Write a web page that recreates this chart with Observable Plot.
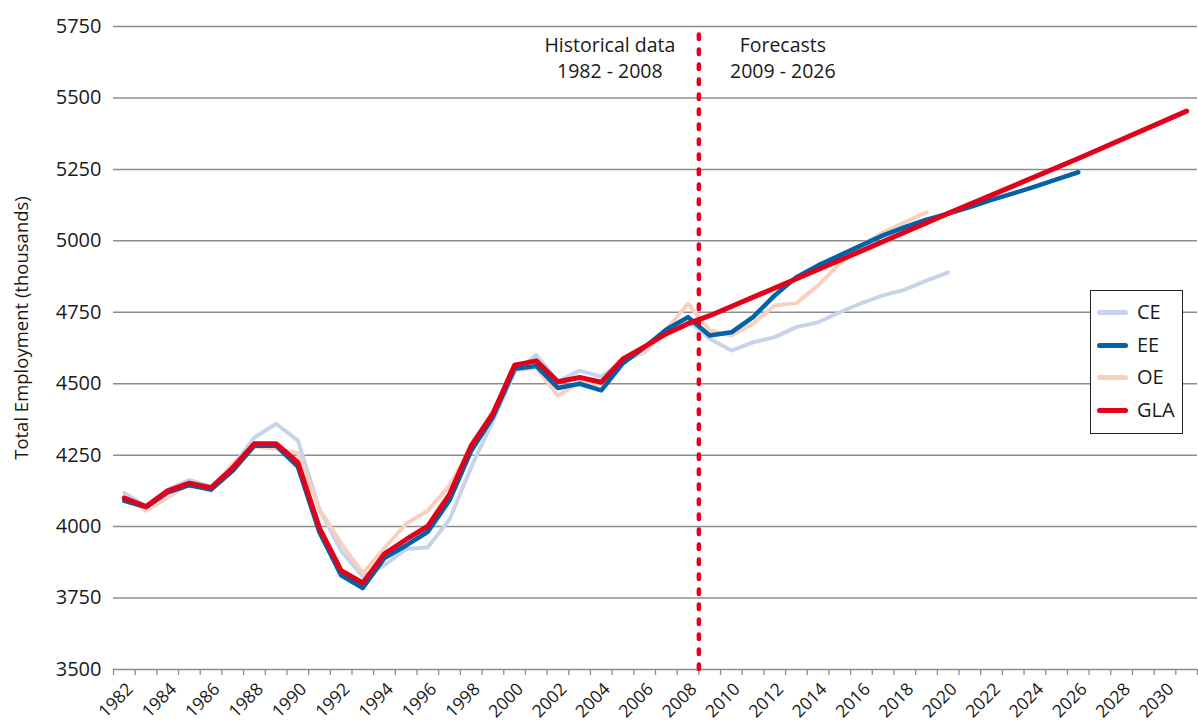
<!DOCTYPE html>
<html>
<head>
<meta charset="utf-8">
<script src="https://cdn.jsdelivr.net/npm/d3@7"></script>
<script src="https://cdn.jsdelivr.net/npm/@observablehq/plot@0.6"></script>
<style>
  body { margin: 0; background: #fff; font-family: "Open Sans", sans-serif; }
  #wrap { position: relative; width: 1198px; height: 727px; }
  #legend { position: absolute; left: 1090px; top: 290px; width: 93px; height: 144px;
            border: 1.3px solid #222; background: #fff; box-sizing: border-box; }
  .row { position: absolute; left: 0; height: 30px; }
  .sw { position: absolute; left: 6px; width: 31px; height: 5px; border-radius: 3px; }
  .lb { position: absolute; left: 46px; font-size: 20px; color: #1a1a1a; white-space: nowrap; line-height: 30px; top: 0; }
</style>
</head>
<body>
<div id="wrap"><div id="chart"></div><div id="legend"></div></div>
<script>
// ---- data (thousands) ----
const histYears = d3.range(1982, 2009);
const ceYears = d3.range(1982, 2021);
const ceValues = [4118, 4070, 4130, 4163, 4140, 4210, 4312, 4360, 4302, 4060, 3916, 3825, 3865, 3922, 3928, 4025, 4208, 4370, 4540, 4600, 4508, 4546, 4525, 4580, 4630, 4680, 4722,
  4657, 4616, 4645, 4663, 4698, 4715, 4750, 4782, 4809, 4829, 4861, 4890];
const eeYears = d3.range(1982, 2027);
const eeValues = [4090, 4068, 4120, 4145, 4130, 4195, 4283, 4283, 4210, 3980, 3830, 3785, 3890, 3934, 3982, 4092, 4265, 4383, 4552, 4562, 4485, 4500, 4477, 4572, 4628, 4690, 4733,
  4669, 4680, 4733, 4809, 4873, 4914, 4949, 4984, 5019, 5048, 5074, 5095, 5118, 5143, 5166, 5190, 5215, 5240];
const oeYears = d3.range(1982, 2020);
const oeValues = [4105, 4055, 4102, 4150, 4125, 4220, 4280, 4272, 4258, 4060, 3942, 3837, 3925, 4010, 4056, 4144, 4278, 4406, 4546, 4555, 4458, 4505, 4497, 4580, 4610, 4690, 4780,
  4686, 4669, 4710, 4774, 4782, 4844, 4920, 4984, 5030, 5065, 5100];
const glaYears = [...histYears, 2009, 2015, 2020, 2026, 2031];
const glaValues = [4100, 4070, 4125, 4152, 4136, 4206, 4290, 4290, 4225, 3995, 3846, 3803, 3905, 3955, 4002, 4113, 4283, 4395, 4565, 4580, 4507, 4522, 4505, 4587, 4630, 4675, 4710,
  4738, 4932, 5096, 5288, 5454];

const seriesNames = ["CE", "EE", "OE", "GLA"];
const seriesColors = ["#c6d3ea", "#0062a7", "#f9d0bd", "#e2001a"];
const seriesWidths = [4, 4.5, 4, 5];

const yTicks = d3.range(3500, 5751, 250);
const labelYears = d3.range(1982, 2031, 2);
const boundaryTicks = d3.range(1981.5, 2032, 1);
const dividerYear = 2008.5;
const yTitle = "Total Employment (thousands)";
const annotations = ["Historical data\n1982 - 2008", "Forecasts\n2009 - 2026"];

const toRows = (name, years, values) => years.map((y, i) => ({series: name, year: y, value: values[i]}));
const data = {
  CE: toRows("CE", ceYears, ceValues),
  EE: toRows("EE", eeYears, eeValues),
  OE: toRows("OE", oeYears, oeValues),
  GLA: toRows("GLA", glaYears, glaValues)
};

const lineMark = (name) => {
  const i = seriesNames.indexOf(name);
  return Plot.line(data[name], {x: "year", y: "value", stroke: seriesColors[i], strokeWidth: seriesWidths[i],
    strokeLinejoin: "round", strokeLinecap: "round"});
};

const chart = Plot.plot({
  width: 1198, height: 727,
  marginLeft: 113, marginRight: 1, marginTop: 26, marginBottom: 58,
  style: {fontFamily: "'Open Sans', sans-serif", fontSize: "20px", color: "#1a1a1a", background: "#fff"},
  x: {domain: [1981.5, 2031.5]},
  y: {domain: [3500, 5750]},
  marks: [
    Plot.ruleY(yTicks, {stroke: "#8c8c8c", strokeWidth: 1.5}),
    Plot.axisY({ticks: yTicks, tickSize: 0, tickPadding: 12, tickFormat: d => String(d), label: null, fontSize: 20}),
    Plot.text([yTitle], {frameAnchor: "left", dx: -91, dy: -20, rotate: -90, textAnchor: "middle", fontSize: 18.5, fill: "#1a1a1a"}),
    Plot.axisX({ticks: boundaryTicks, tickFormat: () => "", tickSize: 6, stroke: "#8c8c8c", strokeWidth: 1.3, label: null}),
    Plot.text(labelYears, {x: d => d, text: d => String(d), frameAnchor: "bottom", dy: 12, dx: 1, rotate: -45,
      textAnchor: "end", lineAnchor: "top", fontSize: 17.5, fill: "#1a1a1a"}),
    lineMark("CE"),
    lineMark("OE"),
    lineMark("EE"),
    lineMark("GLA"),
    Plot.ruleX([dividerYear], {stroke: "#e2001a", strokeWidth: 4.5, strokeDasharray: "4.5 10.5", strokeLinecap: "round", y1: 3500, y2: 5750}),
    Plot.text([annotations[0]], {x: dividerYear, frameAnchor: "top", dx: -89, dy: 7, lineAnchor: "top", lineHeight: 1.33, textAnchor: "middle", fontSize: 19.5, fill: "#1a1a1a"}),
    Plot.text([annotations[1]], {x: dividerYear, frameAnchor: "top", dx: 84, dy: 7, lineAnchor: "top", lineHeight: 1.33, textAnchor: "middle", fontSize: 19.5, fill: "#1a1a1a"})
  ]
});
document.getElementById("chart").appendChild(chart);

// legend
const legend = document.getElementById("legend");
seriesNames.forEach((name, i) => {
  const row = document.createElement("div");
  row.className = "row";
  row.style.top = (6 + i * 32.5) + "px";
  row.style.width = "90px";
  const sw = document.createElement("div");
  sw.className = "sw";
  sw.style.background = seriesColors[i];
  sw.style.top = "13px";
  const lb = document.createElement("div");
  lb.className = "lb";
  lb.textContent = name;
  row.appendChild(sw); row.appendChild(lb);
  legend.appendChild(row);
});
</script>
</body>
</html>
